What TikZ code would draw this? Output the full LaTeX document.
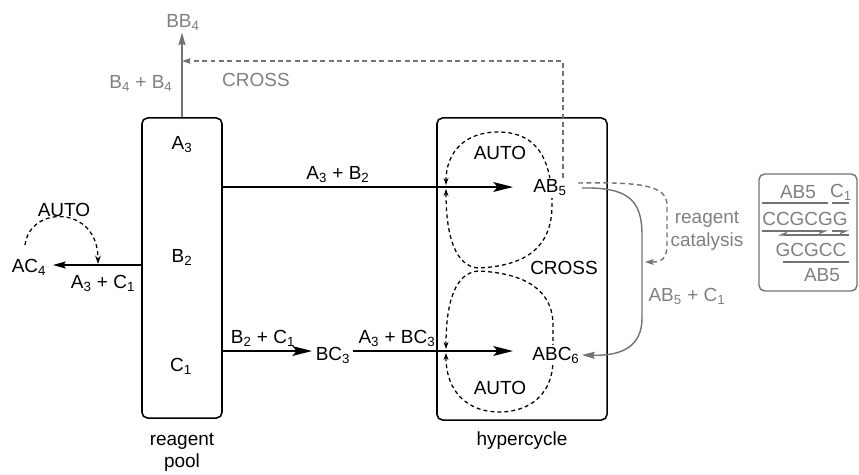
\documentclass[tikz,border=0pt]{standalone}
\usepackage{fontspec}
\setmainfont{Liberation Sans}
\usepackage{tikz}
\usetikzlibrary{arrows.meta,positioning}

\begin{document}
\begin{tikzpicture}[x=0.025cm,y=-0.025cm,
		every node/.style={font=\fontsize{13.5}{15.5}\selectfont,inner sep=1.5pt},
		box/.style={draw,line width=1.1pt,rounded corners=4pt},
		gbox/.style={draw=black!55,line width=1pt,rounded corners=4pt},
		gtext/.style={text=black!50},
		react/.style={line width=1.2pt,-{Stealth[length=14pt,width=7pt,inset=3pt]}},
		side/.style={line width=1.2pt,-{Stealth[length=9pt,width=5pt,inset=1.5pt]}},
		cycl/.style={line width=0.9pt,dash pattern=on 2.8pt off 2.2pt},
		ctip/.style={cycl,{Stealth[length=5pt,width=3.5pt]}-{Stealth[length=5pt,width=3.5pt]}},
		gline/.style={draw=black!55,line width=1pt},
		garrow/.style={gline,-{Stealth[length=9pt,width=5pt,inset=1pt]}},
		gdash/.style={gline,dash pattern=on 3.5pt off 2.5pt,-{Stealth[length=6pt,width=4pt,inset=1pt]}},
		strand/.style={gline,line width=0.8pt,-{Stealth[length=6pt,width=5pt,harpoon,swap]}}
	]
	\useasboundingbox (0,0) rectangle (859,474);
	\node[box,minimum width=2cm,minimum height=7.5cm] (pool) at (182,268) {};
	\node[box,minimum width=4.25cm,minimum height=7.55cm] (hyper) at (522,269) {};
	\node[gbox,minimum width=2.45cm,minimum height=2.925cm] (seq) at (808,232.5) {};
	\draw[ctip] (446,189) .. controls (446,238) and (456,266) .. (478,268)
		.. controls (525,266) and (552,248) .. (552,205)
		.. controls (552,150) and (530,132) .. (498,132)
		.. controls (465,132) and (446,152) .. (446,185);
	\draw[ctip] (446,353) .. controls (446,392) and (468,412) .. (499,412)
		.. controls (532,412) and (553,392) .. (553,360) -- (553,325)
		.. controls (553,290) and (525,273) .. (478,271)
		.. controls (456,273) and (446,300) .. (446,349);
	\node (A3) at (182,145) {A\textsubscript{3}};
	\node (B2) at (182,257) {B\textsubscript{2}};
	\node (C1) at (181,366) {C\textsubscript{1}};
	\node[align=center] (poolname) at (182,452) {reagent\\pool};
	\node (hypername) at (522,441) {hypercycle};
	\node[fill=white] (AB5) at (550,188) {AB\textsubscript{5}};
	\node[fill=white] (ABC6) at (556,355) {ABC\textsubscript{6}};
	\node (BC3) at (333,355) {BC\textsubscript{3}};
	\node (AC4) at (29,267) {AC\textsubscript{4}};
	\node (autoL) at (64,210) {AUTO};
	\node (autoT) at (500,153) {AUTO};
	\node (autoB) at (500,388) {AUTO};
	\node[fill=white] (crossH) at (564,268) {CROSS};
	\node (sumAB) at (338,175) {A\textsubscript{3} + B\textsubscript{2}};
	\node (sumAC) at (103,283) {A\textsubscript{3} + C\textsubscript{1}};
	\node (sumBC) at (263,338) {B\textsubscript{2} + C\textsubscript{1}};
	\node (sumABC) at (397,338) {A\textsubscript{3} + BC\textsubscript{3}};
	\node[gtext] (BB4) at (183,22) {BB\textsubscript{4}};
	\node[gtext] (sumBB) at (141,83) {B\textsubscript{4} + B\textsubscript{4}};
	\node[gtext] (crossP) at (256,80) {CROSS};
	\node[gtext] (sumABC1) at (687,296) {AB\textsubscript{5} + C\textsubscript{1}};
	\node[gtext,align=center] (cat) at (707,231) {reagent\\[1pt]catalysis};
	\node[gtext] (prA) at (798,192) {AB5};
	\node[gtext] (prC) at (841,192) {C\textsubscript{1}};
	\node[gtext] (top) at (805,219) {CCGCGG};
	\node[gtext] (bot) at (811,250) {GCGCC};
	\node[gtext] (prB) at (822,275) {AB5};
	\coordinate (inAB) at (513,187);
	\coordinate (inBC) at (312,351);
	\coordinate (inABC) at (513,351);
	\coordinate (outAC) at (53,265);
	\coordinate (autoAC) at (98,264);
	\coordinate (crossC) at (563,61);
	\coordinate (catS) at (578,183);
	\coordinate (catE) at (645,262);
	\draw[react] (pool.east |- inAB) -- (inAB);
	\draw[react] (pool.east |- inBC) -- (inBC);
	\draw[react] (BC3.east |- inABC) -- (inABC);
	\draw[side] (pool.west |- outAC) -- (outAC);
	\draw[cycl,-{Stealth[length=6pt,width=4pt]}] (25,245) .. controls (30,205) and (98,205) .. (autoAC);
	\draw[garrow] (pool.north) -- (pool.north |- BB4.south);
	\draw[gdash] (crossC |- AB5.north) -- (crossC) -- (crossC -| pool.north);
	\draw[garrow] ([xshift=9pt]AB5.east) .. controls (628,187) and (642,200) .. (642,235) -- (642,318)
		.. controls (642,345) and (624,356) .. (ABC6.east);
	\draw[gdash] (catS) .. controls (640,182) and (667,185) .. (667,205) -- (667,245)
		.. controls (667,260) and (660,262) .. (catE);
	\draw[gline] (762,203) -- (828,203);
	\draw[gline] (832,203) -- (849,203);
	\draw[strand] (762,231) -- (828,231);
	\draw[strand] (832,231) -- (849,231);
	\draw[strand] (849,235) -- (778,235);
	\draw[gline] (783,262) -- (849,262);
\end{tikzpicture}
\end{document}
